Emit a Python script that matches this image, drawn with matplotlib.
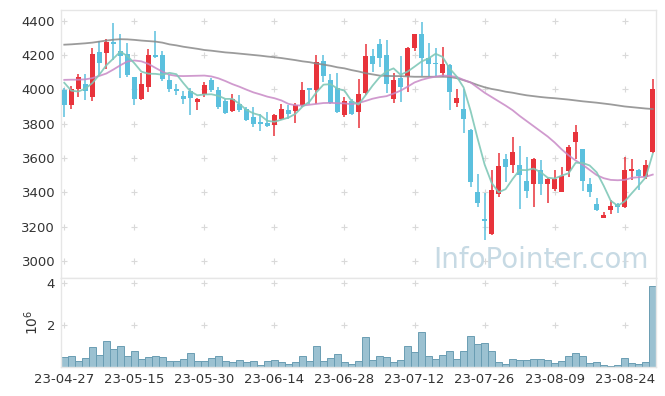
import numpy as np
import pandas as pd
import matplotlib
matplotlib.use("Agg")
import matplotlib.pyplot as plt

# --- 거래일 (KRX 휴장일 제외) ---
holidays = ["2023-05-01", "2023-05-05", "2023-05-29", "2023-06-06", "2023-08-15"]
dates = pd.bdate_range("2023-04-27", "2023-08-30", freq="C", holidays=holidays)
date_labels = list(dates.strftime("%y-%m-%d"))

# --- 시세 ---
opens = [3995, 3910, 4000, 4030, 3957, 4217, 4213, 4276, 4222, 4204,
         4070, 3945, 4015, 4200, 4200, 4054, 4002, 3961, 3992, 3928,
         3973, 4054, 3996, 3934, 3875, 3914, 3883, 3837, 3809, 3805,
         3792, 3829, 3879, 3875, 3908, 4002, 3996, 4165, 4054, 4006,
         3850, 3934, 3869, 3977, 4194, 4264, 4200, 3942, 4064, 4078,
         4239, 4322, 4181, 4155, 4097, 4142, 3922, 3883, 3762, 3403,
         3242, 3156, 3388, 3594, 3559, 3559, 3467, 3446, 3532, 3446,
         3417, 3403, 3526, 3694, 3650, 3448, 3331, 3251, 3296, 3331,
         3316, 3526, 3530, 3487, 3636]
highs = [4010, 4020, 4087, 4087, 4240, 4283, 4295, 4388, 4322, 4272,
         4073, 4097, 4233, 4338, 4225, 4083, 4031, 3992, 4006, 3948,
         4041, 4064, 4012, 3942, 3971, 3967, 3899, 3899, 3856, 3869,
         3856, 3914, 3908, 3918, 4044, 4006, 4200, 4200, 4089, 4093,
         3953, 3945, 4058, 4264, 4233, 4292, 4287, 4093, 4194, 4248,
         4325, 4394, 4268, 4239, 4248, 4148, 4000, 4000, 3770, 3504,
         3394, 3532, 3627, 3623, 3720, 3669, 3604, 3600, 3590, 3481,
         3532, 3549, 3675, 3792, 3655, 3481, 3364, 3286, 3355, 3335,
         3607, 3592, 3534, 3588, 4058]
lows = [3840, 3885, 3953, 3938, 3934, 4078, 4117, 4171, 4064, 4073,
        3908, 3940, 3986, 4181, 4050, 3986, 3967, 3914, 3850, 3879,
        3953, 3986, 3883, 3856, 3869, 3869, 3817, 3782, 3759, 3782,
        3728, 3821, 3825, 3802, 3899, 3914, 3914, 4044, 3914, 3860,
        3837, 3850, 3773, 3967, 4103, 4128, 3977, 3922, 3928, 3986,
        4225, 4078, 4078, 4078, 4073, 3879, 3895, 3745, 3429, 3315,
        3122, 3150, 3374, 3461, 3510, 3300, 3364, 3315, 3384, 3339,
        3409, 3400, 3487, 3592, 3409, 3370, 3292, 3248, 3273, 3277,
        3310, 3471, 3413, 3480, 3630]
closes = [3910, 4000, 4070, 3992, 4206, 4155, 4276, 4264, 4194, 4083,
          3945, 4031, 4200, 4190, 4058, 4000, 3992, 3942, 3948, 3942,
          4025, 3996, 3899, 3860, 3942, 3879, 3821, 3798, 3798, 3786,
          3850, 3883, 3856, 3908, 3996, 3996, 4157, 4078, 3922, 3869,
          3934, 3856, 3973, 4194, 4148, 4181, 4031, 4054, 4012, 4239,
          4322, 4181, 4148, 4146, 4148, 3986, 3948, 3829, 3461, 3339,
          3234, 3413, 3553, 3549, 3636, 3500, 3409, 3594, 3446, 3475,
          3477, 3494, 3662, 3753, 3467, 3403, 3296, 3269, 3320, 3316,
          3532, 3534, 3494, 3559, 4000]

# 거래량 (백만 주)
volume = [0.47, 0.54, 0.30, 0.43, 0.95, 0.57, 1.23, 0.85, 0.99, 0.52,
          0.76, 0.38, 0.47, 0.52, 0.47, 0.28, 0.28, 0.38, 0.66, 0.28,
          0.28, 0.43, 0.52, 0.28, 0.24, 0.33, 0.24, 0.28, 0.09, 0.28,
          0.33, 0.24, 0.14, 0.24, 0.52, 0.28, 0.99, 0.28, 0.43, 0.61,
          0.24, 0.14, 0.28, 1.42, 0.33, 0.52, 0.47, 0.24, 0.33, 0.99,
          0.71, 1.65, 0.52, 0.38, 0.57, 0.76, 0.38, 0.76, 1.47, 1.09,
          1.13, 0.76, 0.24, 0.14, 0.38, 0.33, 0.33, 0.38, 0.38, 0.33,
          0.19, 0.28, 0.52, 0.66, 0.52, 0.19, 0.24, 0.09, 0.05, 0.09,
          0.43, 0.19, 0.14, 0.24, 3.85]

# 이동평균선
ma5 = [4038, 3992, 3987, 4004, 4036, 4085, 4140, 4179, 4219, 4194,
       4152, 4103, 4091, 4090, 4085, 4096, 4088, 4036, 3988, 3965,
       3970, 3971, 3962, 3944, 3944, 3915, 3880, 3860, 3848, 3816,
       3811, 3823, 3835, 3857, 3899, 3928, 3983, 4027, 4030, 4004,
       3992, 3932, 3911, 3965, 4021, 4070, 4105, 4122, 4085, 4103,
       4132, 4162, 4180, 4207, 4189, 4122, 4075, 4011, 3874, 3713,
       3562, 3455, 3400, 3418, 3477, 3530, 3529, 3538, 3517, 3485,
       3480, 3497, 3511, 3572, 3571, 3556, 3516, 3438, 3351, 3321,
       3347, 3394, 3439, 3487, 3624]
ma20 = [4055, 4056, 4056, 4058, 4065, 4078, 4092, 4115, 4140, 4162,
        4168, 4163, 4148, 4125, 4103, 4085, 4078, 4077, 4078, 4079,
        4080, 4075, 4064, 4048, 4030, 4015, 3998, 3982, 3970, 3957,
        3948, 3935, 3915, 3907, 3905, 3910, 3915, 3920, 3921, 3919,
        3918, 3913, 3920, 3932, 3945, 3954, 3960, 3975, 3992, 4015,
        4040, 4055, 4066, 4074, 4080, 4078, 4072, 4055, 4040, 4010,
        3980, 3955, 3930, 3905, 3878, 3845, 3815, 3785, 3755, 3725,
        3690, 3650, 3615, 3585, 3560, 3530, 3500, 3482, 3472, 3470,
        3472, 3484, 3488, 3490, 3503]
ma60 = [4260, 4262, 4265, 4268, 4272, 4278, 4284, 4289, 4292, 4291,
        4288, 4284, 4281, 4278, 4272, 4262, 4256, 4248, 4242, 4236,
        4229, 4225, 4220, 4215, 4212, 4208, 4204, 4200, 4196, 4191,
        4187, 4182, 4176, 4170, 4163, 4158, 4150, 4144, 4137, 4128,
        4122, 4112, 4104, 4094, 4087, 4080, 4078, 4077, 4077, 4075,
        4073, 4073, 4073, 4073, 4073, 4072, 4065, 4053, 4040, 4025,
        4012, 4002, 3995, 3986, 3980, 3972, 3965, 3960, 3955, 3951,
        3948, 3944, 3940, 3935, 3930, 3926, 3922, 3917, 3912, 3906,
        3900, 3896, 3892, 3888, 3885]

price_ticks = [3000, 3200, 3400, 3600, 3800, 4000, 4200, 4400]
volume_ticks = [2, 4]

RED = "#e8333b"
BLUE = "#5bc0de"
GRID = "#d9d9d9"
SPINE = "#e6e6e6"

o = np.array(opens)
c = np.array(closes)
x = np.arange(len(dates))
up = c > o
colors = np.where(up, RED, BLUE)

fig = plt.figure(figsize=(6.65, 3.96), dpi=100)
ax = fig.add_axes([0.0913, 0.2987, 0.8952, 0.676])
axv = fig.add_axes([0.0913, 0.0725, 0.8952, 0.2262], sharex=ax)

# 그리드: 교차점에만 '+' 표시
xt = x[::10]
for a, ys in ((ax, price_ticks), (axv, volume_ticks)):
    gx, gy = np.meshgrid(xt, ys)
    a.scatter(gx.ravel(), gy.ravel(), marker="+", s=14, color=GRID,
              linewidths=0.8, zorder=0)

# 캔들
ax.vlines(x, lows, highs, colors=colors, linewidth=1.1, zorder=2)
body = np.maximum(np.abs(c - o), 9)
ax.bar(x, body, bottom=np.minimum(o, c), width=0.66, color=colors,
       linewidth=0, zorder=3)

# 이동평균
ax.plot(x, ma60, color="#8a8a8a", lw=1.3, alpha=0.85, zorder=4)
ax.plot(x, ma20, color="#c889c6", lw=1.3, alpha=0.85, zorder=4)
ax.plot(x, ma5, color="#80c8b8", lw=1.3, alpha=0.9, zorder=4)

ax.text(0.987, 0.036, "InfoPointer.com", transform=ax.transAxes,
        ha="right", va="baseline", fontsize=20, color="#c7dae4", zorder=1)

ax.set_ylim(2902, 4462)
ax.set_yticks(price_ticks)
ax.set_xlim(-0.51, 84.47)
ax.tick_params(axis="x", labelbottom=False)

# 거래량
axv.bar(x, volume, width=1.0, color="#9bc1d1", edgecolor="#6a9db3",
        linewidth=0.7, zorder=2)
axv.set_ylim(0, 4.24)
axv.set_yticks(volume_ticks)
axv.set_ylabel("$10^6$", fontsize=10, color="#333333", labelpad=4)
axv.set_xticks(xt)
axv.set_xticklabels([date_labels[i] for i in xt])

for a in (ax, axv):
    a.tick_params(length=0, labelsize=9.5, labelcolor="#333333", pad=4)
    for s in a.spines.values():
        s.set_color(SPINE)
        s.set_linewidth(1)

fig.savefig("out.png", dpi=100)
